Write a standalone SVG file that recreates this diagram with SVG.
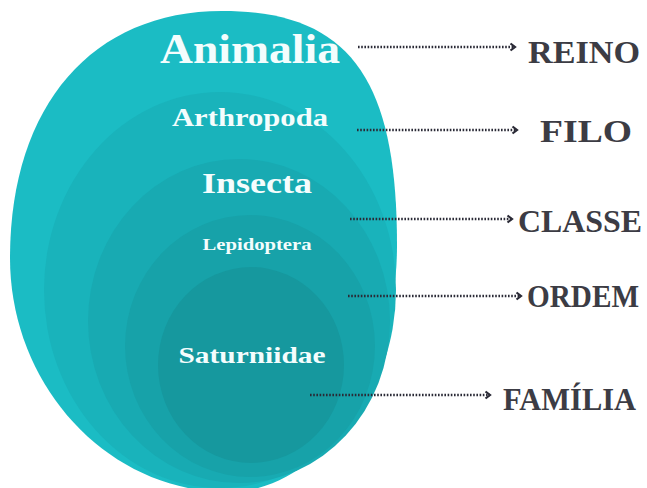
<svg xmlns="http://www.w3.org/2000/svg" width="647" height="488" viewBox="0 0 647 488">
<style>
.in{font-family:"Liberation Serif","Times New Roman",serif;font-weight:bold;fill:#f4fdfd;text-anchor:middle}
.lab{font-family:"Liberation Serif","Times New Roman",serif;font-weight:bold;fill:#3c3c44}
.con{stroke:#2a2a36;stroke-width:2.6;stroke-dasharray:1.6 1.6;fill:none;marker-end:url(#chev)}
</style>
<defs>
<marker id="chev" viewBox="0 0 8 10" refX="6" refY="5" markerWidth="8" markerHeight="10" markerUnits="userSpaceOnUse" orient="auto">
<path d="M1.5,1.5 L6,5 L1.5,8.5" fill="none" stroke="#2a2a36" stroke-width="2.2"/>
</marker>
</defs>
<rect width="647" height="488" fill="#ffffff"/>
<g id="reino-node"><path d="M222,11 C352,11 397,82 397,245 C397,380 321,492 228,492 C108,492 10,386 10,258 C10,106 92,11 222,11 Z" fill="#1bbcc4"/></g>
<g id="filo-node"><ellipse cx="220" cy="290" rx="176" ry="198" fill="#19b3bb"/></g>
<g id="classe-node"><ellipse cx="239" cy="321" rx="151" ry="162" fill="#18aab2"/></g>
<g id="ordem-node"><ellipse cx="250" cy="346" rx="125" ry="131" fill="#17a2a9"/></g>
<g id="familia-node"><ellipse cx="251" cy="365" rx="93" ry="98" fill="#16989e"/></g>
<g id="inner-labels">
<text class="in" x="250" y="63" font-size="42" textLength="180" lengthAdjust="spacingAndGlyphs">Animalia</text>
<text class="in" x="250" y="126" font-size="26" textLength="156" lengthAdjust="spacingAndGlyphs">Arthropoda</text>
<text class="in" x="257" y="193" font-size="30" textLength="110" lengthAdjust="spacingAndGlyphs">Insecta</text>
<text class="in" x="257" y="250" font-size="16" textLength="109" lengthAdjust="spacingAndGlyphs">Lepidoptera</text>
<text class="in" x="252" y="363" font-size="24" textLength="147" lengthAdjust="spacingAndGlyphs">Saturniidae</text>
</g>
<g id="connectors">
<line class="con" x1="358" y1="47" x2="515" y2="47"/>
<line class="con" x1="357" y1="130" x2="517" y2="130"/>
<line class="con" x1="350" y1="219" x2="512" y2="219"/>
<line class="con" x1="348" y1="296" x2="521" y2="296"/>
<line class="con" x1="310" y1="395" x2="490" y2="395"/>
</g>
<g id="rank-labels">
<text class="lab" x="528" y="63" font-size="32" textLength="112" lengthAdjust="spacingAndGlyphs">REINO</text>
<text class="lab" x="540" y="142" font-size="32" textLength="92" lengthAdjust="spacingAndGlyphs">FILO</text>
<text class="lab" x="518" y="232" font-size="32" textLength="124" lengthAdjust="spacingAndGlyphs">CLASSE</text>
<text class="lab" x="527" y="307" font-size="32" textLength="112" lengthAdjust="spacingAndGlyphs">ORDEM</text>
<text class="lab" x="503" y="410" font-size="32" textLength="133" lengthAdjust="spacingAndGlyphs" fill="#1c1c22">FAMÍLIA</text>
</g>
</svg>
